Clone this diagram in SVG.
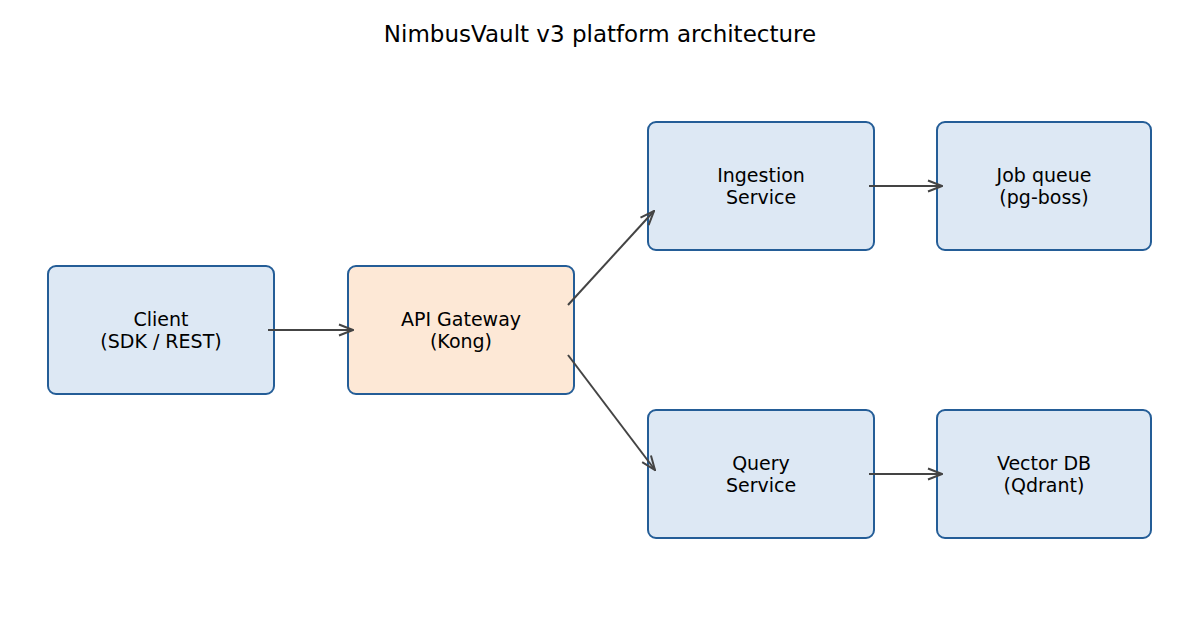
<svg xmlns="http://www.w3.org/2000/svg" width="1200" height="630" viewBox="0 0 1200 630">
<defs>
<style>
.box{fill:#dde8f4;stroke:#245d97;stroke-width:2}
.gw{fill:#fde8d6}
.lbl{font-family:"DejaVu Sans",sans-serif;font-size:19px;fill:#000;text-anchor:middle;dominant-baseline:central}
.title{font-family:"DejaVu Sans",sans-serif;font-size:23px;fill:#000;text-anchor:middle;dominant-baseline:central}
.edge{stroke:#444;stroke-width:2;fill:none;marker-end:url(#arr)}
</style>
<marker id="arr" viewBox="0 0 16 14" refX="15" refY="7" markerWidth="16" markerHeight="14" markerUnits="userSpaceOnUse" orient="auto">
<path d="M1,1.5 L15,7 L1,12.5" fill="none" stroke="#444" stroke-width="2"/>
</marker>
</defs>
<rect width="1200" height="630" fill="#fff"/>
<text class="title" x="600" y="34">NimbusVault v3 platform architecture</text>
<g id="client"><rect class="box" x="48" y="266" width="226" height="128" rx="8"/><text class="lbl" x="161" y="319">Client</text><text class="lbl" x="161" y="341">(SDK / REST)</text></g>
<g id="gateway"><rect class="box gw" x="348" y="266" width="226" height="128" rx="8"/><text class="lbl" x="461" y="319">API Gateway</text><text class="lbl" x="461" y="341">(Kong)</text></g>
<g id="ingestion"><rect class="box" x="648" y="122" width="226" height="128" rx="8"/><text class="lbl" x="761" y="175">Ingestion</text><text class="lbl" x="761" y="197">Service</text></g>
<g id="jobqueue"><rect class="box" x="937" y="122" width="214" height="128" rx="8"/><text class="lbl" x="1044" y="175">Job queue</text><text class="lbl" x="1044" y="197">(pg-boss)</text></g>
<g id="query"><rect class="box" x="648" y="410" width="226" height="128" rx="8"/><text class="lbl" x="761" y="463">Query</text><text class="lbl" x="761" y="485">Service</text></g>
<g id="vectordb"><rect class="box" x="937" y="410" width="214" height="128" rx="8"/><text class="lbl" x="1044" y="463">Vector DB</text><text class="lbl" x="1044" y="485">(Qdrant)</text></g>
<g id="connectors">
<line class="edge" x1="268" y1="330" x2="353" y2="330"/>
<line class="edge" x1="568" y1="305" x2="654" y2="211"/>
<line class="edge" x1="568" y1="355" x2="655" y2="470"/>
<line class="edge" x1="869" y1="186" x2="942" y2="186"/>
<line class="edge" x1="869" y1="474" x2="942" y2="474"/>
</g>
</svg>
